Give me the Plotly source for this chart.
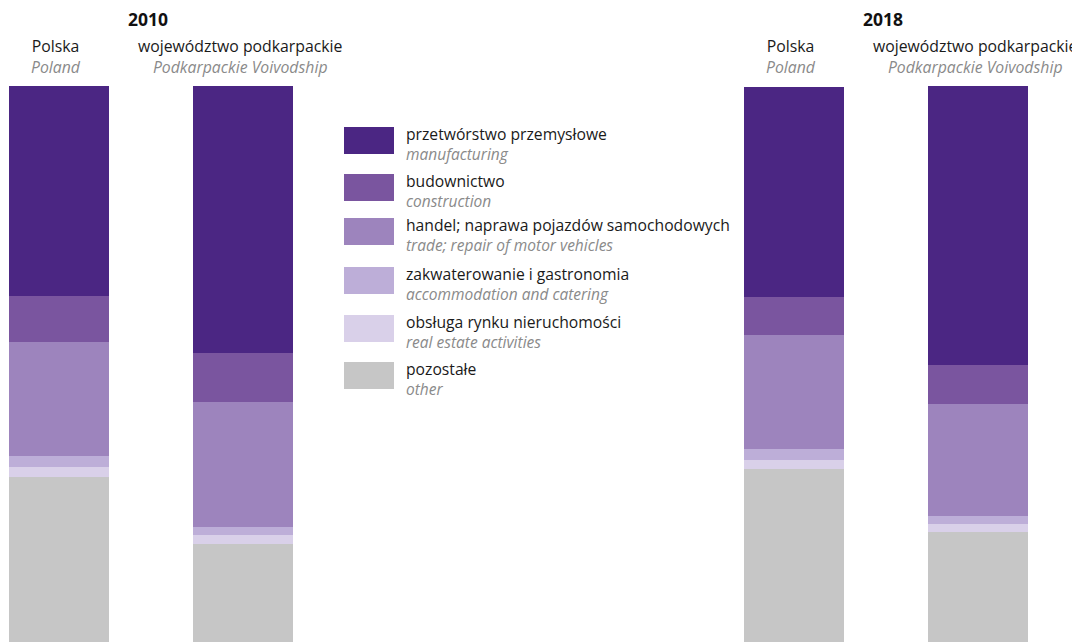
"""
Stacked 100% bars: structure of enterprises by section, Poland vs Podkarpackie, 2010 and 2018.
"""

import plotly.graph_objects as go
from plotly.subplots import make_subplots

FONT = "Open Sans"
TEXT_COLOR = "#1a1a1a"
SUB_COLOR = "#8a8a8a"

YEARS = ["2010", "2018"]
REGIONS = ["Polska", "województwo podkarpackie"]
REGIONS_EN = ["Poland", "Podkarpackie Voivodship"]

SECTIONS_PL = [
    "przetwórstwo przemysłowe",
    "budownictwo",
    "handel; naprawa pojazdów samochodowych",
    "zakwaterowanie i gastronomia",
    "obsługa rynku nieruchomości",
    "pozostałe",
]
SECTIONS_EN = [
    "manufacturing",
    "construction",
    "trade; repair of motor vehicles",
    "accommodation and catering",
    "real estate activities",
    "other",
]
SECTION_COLORS = ["#4b2683", "#7a559f", "#9d84bd", "#bdaed8", "#d9d0e9", "#c6c6c6"]

# shares in %, [Polska, podkarpackie]
SHARES_2010 = {
    "przetwórstwo przemysłowe": [37.8, 48.0],
    "budownictwo": [8.3, 8.8],
    "handel; naprawa pojazdów samochodowych": [20.5, 22.5],
    "zakwaterowanie i gastronomia": [2.0, 1.4],
    "obsługa rynku nieruchomości": [1.8, 1.6],
    "pozostałe": [29.6, 17.7],
}
SHARES_2018 = {
    "przetwórstwo przemysłowe": [37.8, 50.2],
    "budownictwo": [6.7, 7.0],
    "handel; naprawa pojazdów samochodowych": [20.5, 20.1],
    "zakwaterowanie i gastronomia": [2.0, 1.5],
    "obsługa rynku nieruchomości": [1.6, 1.4],
    "pozostałe": [31.2, 19.8],
}

# the page body has an 8px margin, so the figure is drawn 8px in from the window corner
OFF = 8
W, H = 1080 - OFF, 642 - OFF
TOP = 86          # top of the bars, window px
BAR_PX = 100      # bar width in px
STEP_PX = 184     # distance between bar centres within a year
FIRST_CENTRE = [59, 794]  # centre of first bar in each year group, window px


def px_x(x):
    return (x - OFF) / W


def px_y(y):
    return 1 - (y - OFF) / H


def two_line(pl, en, en_size):
    return (f"{pl}<br><i><span style='color:{SUB_COLOR};font-size:{en_size}px'>"
            f"{en}</span></i>")


fig = make_subplots(rows=1, cols=2, horizontal_spacing=0)

for col, (year, shares) in enumerate(zip(YEARS, [SHARES_2010, SHARES_2018]), start=1):
    # stack from bottom: other first, manufacturing on top
    for name, color in reversed(list(zip(SECTIONS_PL, SECTION_COLORS))):
        fig.add_trace(
            go.Bar(x=REGIONS, y=shares[name], name=name, marker_color=color,
                   marker_line_width=0, showlegend=False, hoverinfo="x+y+name"),
            row=1, col=col,
        )
    dom_w = W / 2
    start = -(FIRST_CENTRE[col - 1] - OFF - (col - 1) * dom_w) / STEP_PX
    fig.update_xaxes(range=[start, start + dom_w / STEP_PX], visible=False,
                     fixedrange=True, row=1, col=col)
    fig.update_yaxes(range=[0, 100], visible=False, domain=[0, px_y(TOP)],
                     fixedrange=True, row=1, col=col)

    xref = "x" if col == 1 else f"x{col}"
    for reg, reg_en in zip(REGIONS, REGIONS_EN):
        fig.add_annotation(x=reg, xref=xref, xshift=-3, y=px_y(57), yref="paper",
                           xanchor="center", yanchor="middle",
                           text=two_line(reg, reg_en, 15.8), showarrow=False,
                           font=dict(family=FONT, size=15.8, color=TEXT_COLOR))
    # year heading, centred over the group
    fig.add_annotation(
        x=px_x(FIRST_CENTRE[col - 1] + STEP_PX / 2 - 3), y=px_y(19),
        xref="paper", yref="paper", xanchor="center", yanchor="middle",
        text=f"<b>{year}</b>", showarrow=False,
        font=dict(family=FONT, size=17.5, color="#111111"),
    )

# legend built by hand: big swatches with two-line labels
LEG_X0, LEG_X1, LEG_TEXT_X = 344, 394, 404
LEG_TOPS = [127, 174, 218, 267, 315, 362]
for pl, en, color, top in zip(SECTIONS_PL, SECTIONS_EN, SECTION_COLORS, LEG_TOPS):
    fig.add_shape(type="rect", xref="paper", yref="paper",
                  x0=px_x(LEG_X0), x1=px_x(LEG_X1),
                  y0=px_y(top + 27), y1=px_y(top),
                  fillcolor=color, line_width=0)
    fig.add_annotation(x=px_x(LEG_TEXT_X), y=px_y(top + 16.5),
                       xref="paper", yref="paper", xanchor="left", yanchor="middle",
                       align="left", text=two_line(pl, en, 15.5), showarrow=False,
                       font=dict(family=FONT, size=15.7, color=TEXT_COLOR))

fig.update_layout(
    width=W, height=H,
    barmode="stack", bargap=1 - BAR_PX / STEP_PX,
    margin=dict(l=0, r=0, t=0, b=0),
    plot_bgcolor="white", paper_bgcolor="white",
    font=dict(family=FONT, color=TEXT_COLOR),
    showlegend=False,
)

fig.write_html("out.html")
